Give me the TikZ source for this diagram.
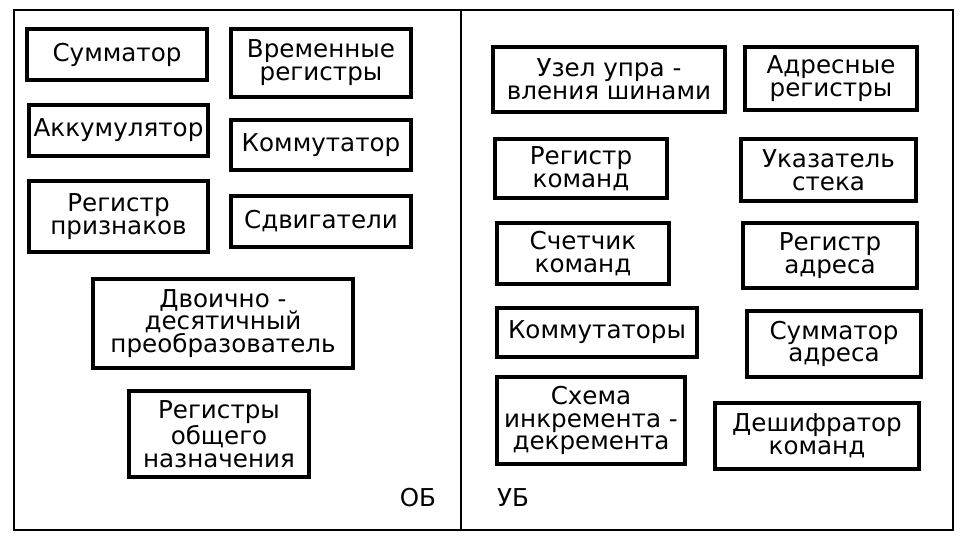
\documentclass[tikz,border=0pt]{standalone}
\usepackage{fontspec}
\setmainfont{DejaVu Sans}
\begin{document}
\begin{tikzpicture}[x=0.02cm,y=-0.02cm]
		\tikzstyle{blok}=[draw=black,line width=1.9pt,align=center,inner sep=0pt,font=\fontsize{14}{13}\selectfont]
		\tikzstyle{metka}=[font=\fontsize{14}{13}\selectfont]
		\useasboundingbox (0,0) rectangle (962,544);
		
		\draw[line width=1.1pt] (14,10) rectangle (953,530);
		\draw[line width=1.1pt] (461,10) -- (461,530);
		
		% operational part
		\node[blok,minimum width=3.6cm,minimum height=1.02cm] (sum) at (117,54.5) {Сумматор};
		\node[blok,minimum width=3.6cm,minimum height=1.36cm] (vr) at (321,63) {Временные\\регистры};
		\node[blok,minimum width=3.58cm,minimum height=1.02cm] (akk) at (118.5,130.5) {Аккумулятор};
		\node[blok,minimum width=3.6cm,minimum height=1.0cm] (kom) at (321,145) {Коммутатор};
		\node[blok,minimum width=3.58cm,minimum height=1.42cm] (rp) at (118.5,216.5) {Регистр\\признаков};
		\node[blok,minimum width=3.6cm,minimum height=1.02cm] (sd) at (321,221.5) {Сдвигатели};
		\node[blok,minimum width=5.2cm,minimum height=1.78cm] (dd) at (223,323.5) {Двоично -\\десятичный\\преобразователь};
		\node[blok,minimum width=3.6cm,minimum height=1.72cm] (ro) at (219,434) {Регистры\\общего\\назначения};
		\node[metka] (ob) at (418,498) {ОБ};
		
		% control part
		\node[blok,minimum width=4.64cm,minimum height=1.3cm] (uz) at (609,79.5) {Узел упра -\\вления шинами};
		\node[blok,minimum width=3.44cm,minimum height=1.26cm] (ar) at (831,78.5) {Адресные\\регистры};
		\node[blok,minimum width=3.44cm,minimum height=1.18cm] (rk) at (581,168.5) {Регистр\\команд};
		\node[blok,minimum width=3.5cm,minimum height=1.24cm] (us) at (828.5,170) {Указатель\\стека};
		\node[blok,minimum width=3.44cm,minimum height=1.22cm] (sk) at (583,253.5) {Счетчик\\команд};
		\node[blok,minimum width=3.48cm,minimum height=1.3cm] (ra) at (830,255.5) {Регистр\\адреса};
		\node[blok,minimum width=4.0cm,minimum height=0.98cm] (km) at (597,332.5) {Коммутаторы};
		\node[blok,minimum width=3.48cm,minimum height=1.32cm] (sa) at (834,344) {Сумматор\\адреса};
		\node[blok,minimum width=3.76cm,minimum height=1.74cm] (sx) at (591,420.5) {Схема\\инкремента -\\декремента};
		\node[blok,minimum width=4.08cm,minimum height=1.32cm] (dk) at (817,436) {Дешифратор\\команд};
		\node[metka] (ub) at (513,498) {УБ};
	\end{tikzpicture}
\end{document}
